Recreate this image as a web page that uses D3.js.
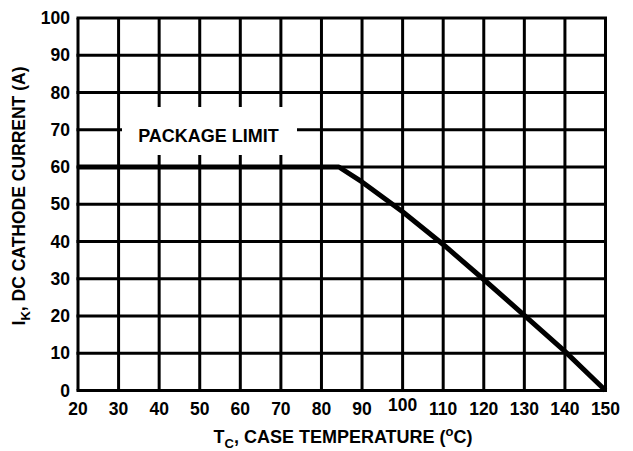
<!DOCTYPE html>
<meta charset="utf-8">
<style>
    body { margin: 0; background: #fff; }
    text { font-family: "Liberation Sans", Arial, sans-serif; font-weight: bold; fill: #000; }
    .grid line { stroke: #000; stroke-width: 3px; }
</style>
<svg width="633" height="451"></svg>
<script src="https://cdn.jsdelivr.net/npm/d3@7"></script>
<script>

    // derating curve
    var tempC = [20, 84.3, 90, 100, 110, 120, 130, 140, 150];
    var currentA = [60, 60, 56, 48, 39.2, 29.8, 20.2, 10.5, 0];

    var xTicks = [20, 30, 40, 50, 60, 70, 80, 90, 100, 110, 120, 130, 140, 150];
    var yTicks = [0, 10, 20, 30, 40, 50, 60, 70, 80, 90, 100];

    var svg = d3.select("svg");

    var x = d3.scaleLinear().domain([20, 150]).range([78, 605.5]);
    var y = d3.scaleLinear().domain([0, 100]).range([390.5, 18]);

    var grid = svg.append("g").attr("class", "grid");

    grid.selectAll(".v")
        .data(xTicks)
        .enter().append("line")
        .attr("x1", function(d) { return x(d); })
        .attr("x2", function(d) { return x(d); })
        .attr("y1", y(100))
        .attr("y2", y(0));

    grid.selectAll(".h")
        .data(yTicks)
        .enter().append("line")
        .attr("x1", x(20) - 1.5)
        .attr("x2", x(150) + 1.5)
        .attr("y1", function(d) { return y(d); })
        .attr("y2", function(d) { return y(d); });

    // white patch behind the label
    svg.append("rect")
        .attr("x", 122).attr("y", 107)
        .attr("width", 175).attr("height", 48)
        .attr("fill", "#fff");

    svg.append("text")
        .attr("x", 208.5).attr("y", 142)
        .attr("text-anchor", "middle")
        .style("font-size", "18px")
        .text("PACKAGE LIMIT");

    var line = d3.line()
        .x(function(d, i) { return x(tempC[i]); })
        .y(function(d) { return y(d); });

    svg.append("path")
        .datum(currentA)
        .attr("d", line)
        .attr("fill", "none")
        .attr("stroke", "#000")
        .attr("stroke-width", 5)
        .attr("stroke-linejoin", "round");

    // tick labels
    svg.selectAll(".yl")
        .data(yTicks)
        .enter().append("text")
        .attr("x", 70)
        .attr("y", function(d) { return y(d) + 6; })
        .attr("text-anchor", "end")
        .style("font-size", "17.5px")
        .text(function(d) { return d; });

    svg.selectAll(".xl")
        .data(xTicks)
        .enter().append("text")
        .attr("x", function(d) { return x(d); })
        .attr("y", function(d) { return d === 100 ? 411 : 415; })
        .attr("text-anchor", "middle")
        .style("font-size", "17.5px")
        .text(function(d) { return d; });

    // axis titles
    var xt = svg.append("text")
        .attr("x", 343).attr("y", 443)
        .attr("text-anchor", "middle")
        .style("font-size", "18px");
    xt.append("tspan").text("T");
    xt.append("tspan").attr("dy", 5).style("font-size", "13px").text("C");
    xt.append("tspan").attr("dy", -5).text(", CASE TEMPERATURE (");
    xt.append("tspan").attr("dy", -7).style("font-size", "13px").text("o");
    xt.append("tspan").attr("dy", 7).text("C)");

    var yt = svg.append("text")
        .attr("transform", "translate(25,196) rotate(-90)")
        .attr("text-anchor", "middle")
        .style("font-size", "17.5px");
    yt.append("tspan").text("I");
    yt.append("tspan").attr("dy", 5).style("font-size", "13px").text("K");
    yt.append("tspan").attr("dy", -5).text(", DC CATHODE CURRENT (A)");

</script>
